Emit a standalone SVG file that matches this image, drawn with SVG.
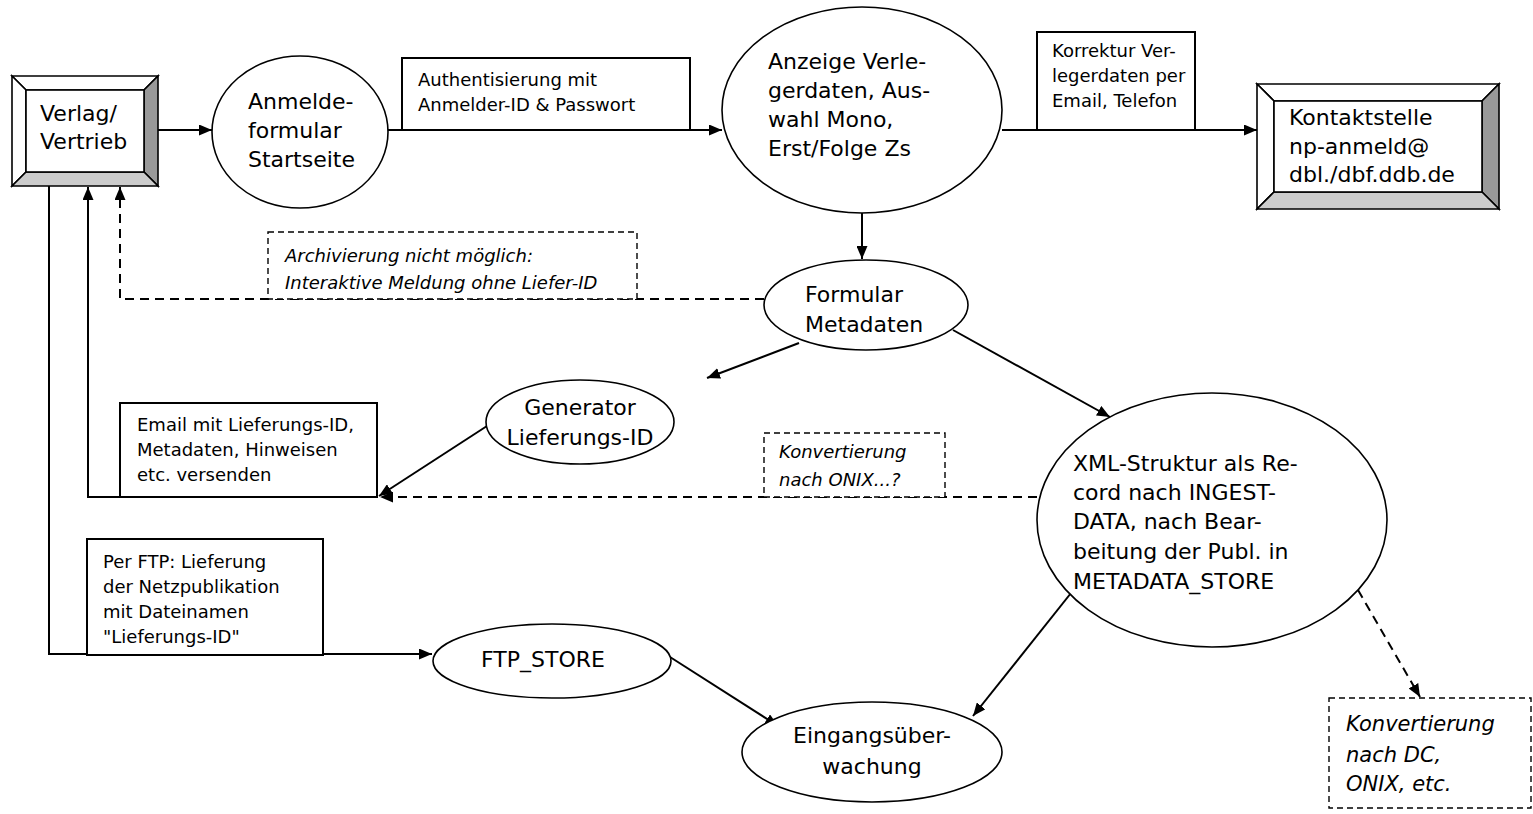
<svg xmlns="http://www.w3.org/2000/svg" width="1533" height="814" viewBox="0 0 1533 814">
<style>
.big{font-family:"DejaVu Sans","Liberation Sans",sans-serif;font-size:22px;fill:#000}
.sm{font-family:"DejaVu Sans","Liberation Sans",sans-serif;font-size:18px;fill:#000}
.it{font-family:"DejaVu Sans","Liberation Sans",sans-serif;font-size:18px;font-style:italic;fill:#000}
.itb{font-family:"DejaVu Sans","Liberation Sans",sans-serif;font-size:21px;font-style:italic;fill:#000}
.ell{fill:#fff;stroke:#000;stroke-width:1.6}
.box{fill:#fff;stroke:#000;stroke-width:2}
.dbox{fill:#fff;stroke:#000;stroke-width:1.4;stroke-dasharray:6,4}
.con{fill:none;stroke:#000;stroke-width:2}
.dcon{fill:none;stroke:#000;stroke-width:2;stroke-dasharray:9,6}
.bv{stroke:#000;stroke-width:1.6;stroke-linejoin:miter}
</style>
<defs>
<marker id="ah" markerUnits="userSpaceOnUse" markerWidth="13" markerHeight="11" refX="13" refY="5.5" orient="auto">
<path d="M0,0 L13,5.5 L0,11 z" fill="#000"/>
</marker>
</defs>

<g id="connectors">
<line class="con" x1="158" y1="130" x2="212" y2="130" marker-end="url(#ah)"/>
<line class="con" x1="388" y1="130" x2="722" y2="130" marker-end="url(#ah)"/>
<line class="con" x1="1002" y1="130" x2="1257" y2="130" marker-end="url(#ah)"/>
<line class="con" x1="862" y1="213" x2="862" y2="259" marker-end="url(#ah)"/>
<polyline class="dcon" points="764,299 120,299 120,187" marker-end="url(#ah)"/>
<line class="con" x1="799" y1="343" x2="707" y2="378" marker-end="url(#ah)"/>
<line class="con" x1="953" y1="330" x2="1110" y2="417" marker-end="url(#ah)"/>
<polyline class="con" points="377,497 88,497 88,187" marker-end="url(#ah)"/>
<line class="con" x1="487" y1="426" x2="379" y2="496" marker-end="url(#ah)"/>
<line class="dcon" x1="1037" y1="497" x2="380" y2="497" marker-end="url(#ah)"/>
<polyline class="con" points="49,186 49,654 432,654" marker-end="url(#ah)"/>
<line class="con" x1="670" y1="657" x2="778" y2="726" marker-end="url(#ah)"/>
<line class="con" x1="1075" y1="588" x2="973" y2="716" marker-end="url(#ah)"/>
<line class="dcon" x1="1358" y1="590" x2="1420" y2="697" marker-end="url(#ah)"/>
</g>

<g id="verlag">
<rect x="12" y="76" width="146" height="110" fill="#fff"/>
<polygon class="bv" points="12,76 158,76 144,90 26,90" fill="#fff"/>
<polygon class="bv" points="12,76 26,90 26,172 12,186" fill="#fff"/>
<polygon class="bv" points="158,76 158,186 144,172 144,90" fill="#999"/>
<polygon class="bv" points="12,186 26,172 144,172 158,186" fill="#ccc"/>
<rect x="26" y="90" width="118" height="82" fill="#fff" stroke="#000" stroke-width="1.6"/>
<text class="big" x="40" y="121">Verlag/</text>
<text class="big" x="40" y="149">Vertrieb</text>
</g>

<g id="anmelde">
<ellipse class="ell" cx="300" cy="132" rx="88" ry="76"/>
<text class="big" x="248" y="109">Anmelde-</text>
<text class="big" x="248" y="138">formular</text>
<text class="big" x="248" y="167">Startseite</text>
</g>

<g id="auth">
<rect class="box" x="402" y="58" width="288" height="72"/>
<text class="sm" x="418" y="86">Authentisierung mit</text>
<text class="sm" x="418" y="111">Anmelder-ID &amp; Passwort</text>
</g>

<g id="anzeige">
<ellipse class="ell" cx="862" cy="110" rx="140" ry="103"/>
<text class="big" x="768" y="69">Anzeige Verle-</text>
<text class="big" x="768" y="98">gerdaten, Aus-</text>
<text class="big" x="768" y="127">wahl Mono,</text>
<text class="big" x="768" y="156">Erst/Folge Zs</text>
</g>

<g id="korrektur">
<rect class="box" x="1037" y="32" width="158" height="98"/>
<text class="sm" x="1052" y="57">Korrektur Ver-</text>
<text class="sm" x="1052" y="82">legerdaten per</text>
<text class="sm" x="1052" y="107">Email, Telefon</text>
</g>

<g id="kontakt">
<rect x="1257" y="84" width="242" height="125" fill="#fff"/>
<polygon class="bv" points="1257,84 1499,84 1482,101 1274,101" fill="#fff"/>
<polygon class="bv" points="1257,84 1274,101 1274,192 1257,209" fill="#fff"/>
<polygon class="bv" points="1499,84 1499,209 1482,192 1482,101" fill="#999"/>
<polygon class="bv" points="1257,209 1274,192 1482,192 1499,209" fill="#ccc"/>
<rect x="1274" y="101" width="208" height="91" fill="#fff" stroke="#000" stroke-width="1.6"/>
<text class="big" x="1289" y="125">Kontaktstelle</text>
<text class="big" x="1289" y="154">np-anmeld@</text>
<text class="big" x="1289" y="182">dbl./dbf.ddb.de</text>
</g>

<g id="archivierung">
<rect class="dbox" x="268" y="232" width="369" height="67"/>
<text class="it" x="285" y="262">Archivierung nicht möglich:</text>
<text class="it" x="285" y="289">Interaktive Meldung ohne Liefer-ID</text>
</g>

<g id="formular">
<ellipse class="ell" cx="866" cy="305" rx="102" ry="45"/>
<text class="big" x="805" y="302">Formular</text>
<text class="big" x="805" y="332">Metadaten</text>
</g>

<g id="generator">
<ellipse class="ell" cx="580" cy="422" rx="94" ry="42"/>
<text class="big" x="580" y="415" text-anchor="middle">Generator</text>
<text class="big" x="580" y="445" text-anchor="middle">Lieferungs-ID</text>
</g>

<g id="email">
<rect class="box" x="120" y="403" width="257" height="94"/>
<text class="sm" x="137" y="431">Email mit Lieferungs-ID,</text>
<text class="sm" x="137" y="456">Metadaten, Hinweisen</text>
<text class="sm" x="137" y="481">etc. versenden</text>
</g>

<g id="onix">
<rect class="dbox" x="764" y="433" width="181" height="64"/>
<text class="it" x="779" y="458">Konvertierung</text>
<text class="it" x="779" y="486">nach ONIX...?</text>
</g>

<g id="xml">
<ellipse class="ell" cx="1212" cy="520" rx="175" ry="127"/>
<text class="big" x="1073" y="471">XML-Struktur als Re-</text>
<text class="big" x="1073" y="500">cord nach INGEST-</text>
<text class="big" x="1073" y="529">DATA, nach Bear-</text>
<text class="big" x="1073" y="559">beitung der Publ. in</text>
<text class="big" x="1073" y="589">METADATA_STORE</text>
</g>

<g id="ftp">
<rect class="box" x="87" y="539" width="236" height="116"/>
<text class="sm" x="103" y="568">Per FTP: Lieferung</text>
<text class="sm" x="103" y="593">der Netzpublikation</text>
<text class="sm" x="103" y="618">mit Dateinamen</text>
<text class="sm" x="103" y="643">"Lieferungs-ID"</text>
</g>

<g id="ftpstore">
<ellipse class="ell" cx="552" cy="661" rx="119" ry="37"/>
<text class="big" x="481" y="667">FTP_STORE</text>
</g>

<g id="eingang">
<ellipse class="ell" cx="872" cy="752" rx="130" ry="50"/>
<text class="big" x="872" y="743" text-anchor="middle">Eingangsüber-</text>
<text class="big" x="872" y="774" text-anchor="middle">wachung</text>
</g>

<g id="dc">
<rect class="dbox" x="1329" y="698" width="202" height="110"/>
<text class="itb" x="1346" y="731">Konvertierung</text>
<text class="itb" x="1346" y="762">nach DC,</text>
<text class="itb" x="1346" y="791">ONIX, etc.</text>
</g>
</svg>
